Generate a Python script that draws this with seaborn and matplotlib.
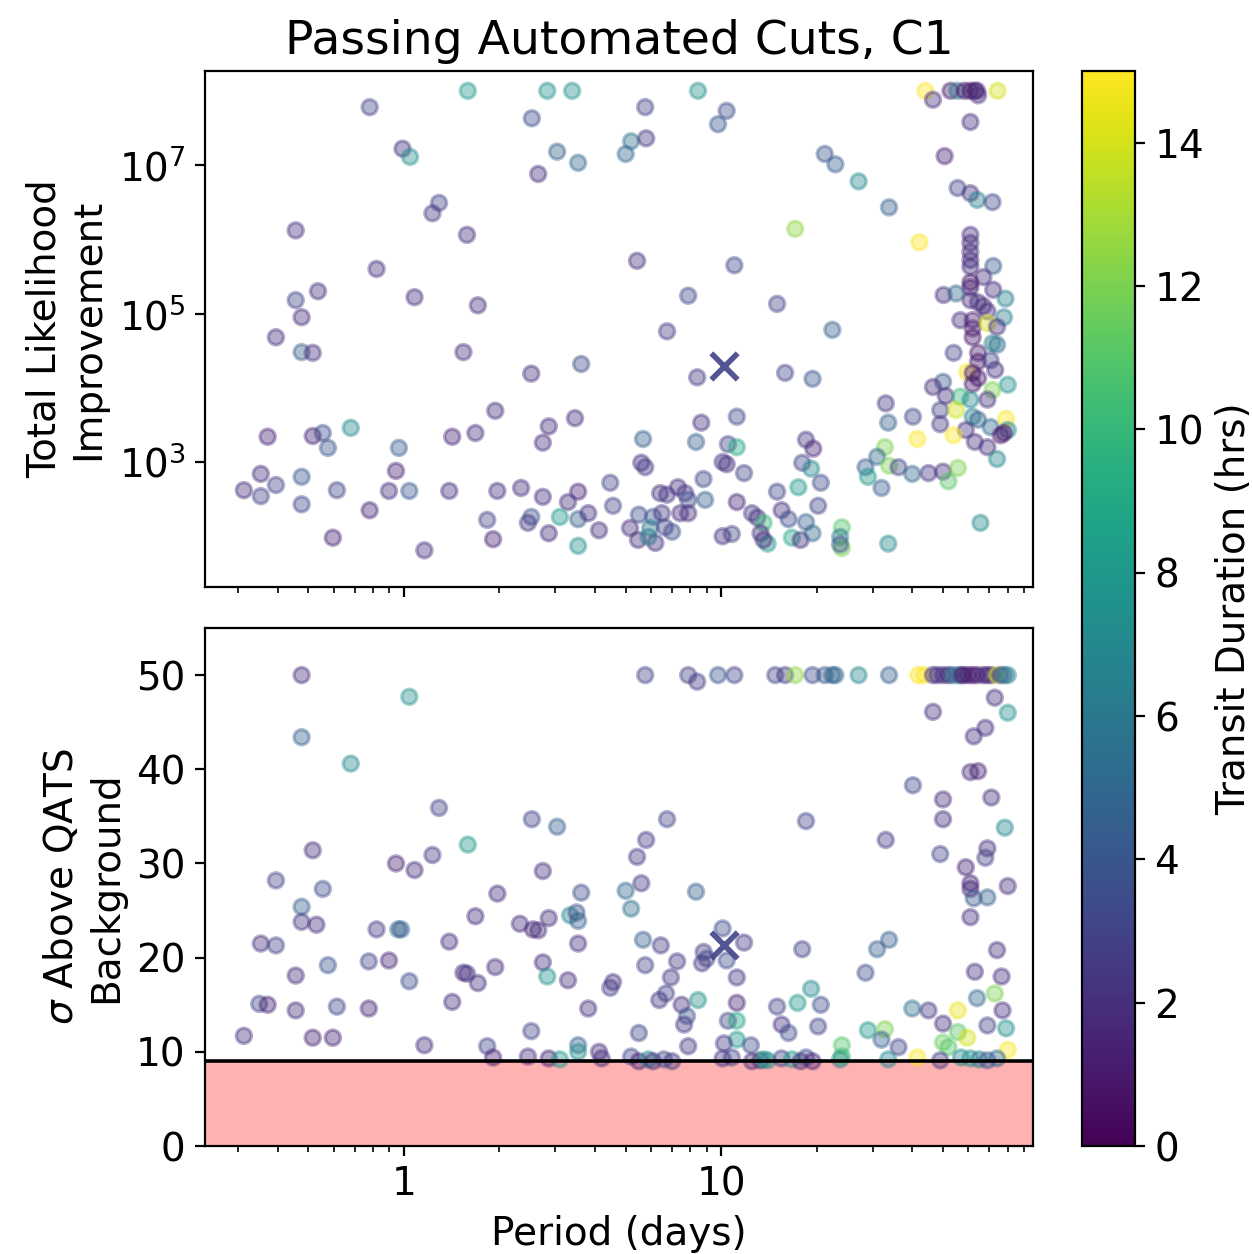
import numpy as np
import pandas as pd
import matplotlib
matplotlib.use("Agg")
import matplotlib.pyplot as plt
import seaborn as sns
from matplotlib.ticker import NullLocator
from matplotlib.colors import Normalize
from matplotlib.cm import ScalarMappable

# ---------------- data ----------------
# Top panel: period (days), log10 of total likelihood improvement, transit duration (hrs)
top_period = [
    0.78, 1.59, 2.83, 3.39, 2.53, 0.99, 1.045, 3.04, 3.54, 2.65,
    1.29, 1.23, 0.456, 1.58, 0.82, 0.536, 0.456, 1.08, 1.71, 0.476,
    0.395, 0.476, 0.516, 1.54, 2.52, 3.62, 1.94, 2.86, 3.46, 2.74,
    0.372, 0.516, 0.555, 0.68, 0.576, 1.42, 1.68, 0.964, 0.944, 0.354,
    0.395, 0.476, 0.313, 0.354, 0.615, 0.897, 1.04, 1.39, 1.97, 2.34,
    2.74, 3.54, 3.29, 4.47, 4.56, 0.476, 0.78, 1.83, 2.52, 2.46,
    3.10, 3.54, 3.81, 2.86, 4.12, 1.91, 0.597, 3.54, 1.16,
    8.45, 5.76, 10.4, 9.77, 5.2, 5.0, 5.8, 21.2, 22.9, 27.1,
    33.8, 17.1, 42.1, 5.43, 11.0, 7.87, 15.0, 6.75, 22.4, 8.4,
    15.9, 19.4, 8.65, 11.2, 5.67, 8.33, 10.5, 11.2, 5.6, 5.76,
    10.1, 10.4, 11.8, 18.5, 19.5, 18.0, 19.2, 20.6, 8.79, 8.9,
    6.42, 6.75, 7.3, 7.7, 7.87, 11.2, 15.0, 17.5, 20.2, 15.5,
    16.3, 7.43, 7.87, 5.5, 6.1, 6.5, 5.16, 5.97, 6.65, 7.0,
    5.47, 6.2, 5.9, 10.1, 10.8, 12.5, 13.0, 13.6, 13.3, 14.0,
    13.6, 16.7, 17.8, 18.5, 19.4, 24.0, 23.7, 24.0, 23.7, 33.6,
    32.8, 31.0, 28.5, 29.0, 33.8, 36.2, 33.0, 33.6, 40.2, 32.0,
    41.5, 40.0,
    44.0, 52.8, 55.5, 58.5, 61.0, 63.0, 64.0, 74.3, 46.5, 64.5,
    61.0, 50.6, 55.6, 61.0, 64.1, 71.6, 61.0, 61.0, 61.0, 61.0,
    61.0, 72.0, 67.0, 61.0, 61.0, 50.2, 55.0, 72.0, 78.7, 61.0,
    64.5, 67.0, 69.0, 77.8, 56.7, 62.0, 62.0, 62.0, 69.0, 74.0,
    74.0, 71.6, 54.0, 64.5, 64.5, 70.6, 73.0, 59.6, 62.0, 64.5,
    62.0, 50.0, 46.5, 80.0, 51.0, 56.7, 71.6, 61.0, 69.0, 49.0,
    55.0, 62.0, 64.5, 79.0, 49.0, 70.6, 80.0, 59.0, 54.0, 76.0,
    77.8, 63.0, 69.0, 74.0, 45.0, 50.0, 55.7, 52.0, 65.6,
]
top_log10_likelihood = [
    7.78, 8.0, 8.0, 8.0, 7.63, 7.22, 7.11, 7.18, 7.03, 6.88,
    6.49, 6.35, 6.12, 6.06, 5.60, 5.30, 5.18, 5.22, 5.11, 4.95,
    4.68, 4.48, 4.47, 4.48, 4.19, 4.32, 3.69, 3.48, 3.59, 3.26,
    3.34, 3.35, 3.39, 3.46, 3.19, 3.34, 3.39, 3.19, 2.88, 2.84,
    2.69, 2.80, 2.62, 2.54, 2.62, 2.61, 2.61, 2.61, 2.61, 2.65,
    2.53, 2.60, 2.46, 2.72, 2.41, 2.43, 2.35, 2.22, 2.26, 2.18,
    2.26, 2.23, 2.31, 2.04, 2.08, 1.96, 1.98, 1.87, 1.81,
    8.0, 7.78, 7.73, 7.55, 7.32, 7.15, 7.36, 7.15, 7.01, 6.78,
    6.43, 6.14, 5.96, 5.71, 5.65, 5.24, 5.13, 4.76, 4.78, 4.14,
    4.20, 4.12, 3.53, 3.61, 3.31, 3.27, 3.24, 3.20, 2.99, 2.93,
    3.0, 2.97, 2.85, 3.30, 3.18, 2.99, 2.91, 2.72, 2.77, 2.49,
    2.58, 2.56, 2.66, 2.58, 2.49, 2.46, 2.60, 2.66, 2.41, 2.35,
    2.23, 2.31, 2.31, 2.29, 2.26, 2.31, 2.11, 2.11, 2.12, 2.06,
    1.95, 1.91, 1.99, 2.0, 2.03, 2.31, 2.25, 2.18, 2.04, 1.90,
    1.95, 1.98, 1.95, 2.19, 2.04, 2.12, 1.99, 1.84, 1.89, 1.90,
    3.20, 3.07, 2.93, 2.80, 2.95, 2.93, 3.79, 3.53, 3.61, 2.65,
    3.31, 2.84,
    8.0, 8.0, 8.0, 8.0, 8.0, 8.0, 8.0, 8.0, 7.88, 7.94,
    7.58, 7.12, 6.69, 6.62, 6.53, 6.50, 6.06, 5.95, 5.83, 5.72,
    5.63, 5.64, 5.49, 5.42, 5.35, 5.25, 5.27, 5.32, 5.20, 5.18,
    5.15, 5.10, 5.03, 4.95, 4.91, 4.91, 4.80, 4.68, 4.87, 4.82,
    4.58, 4.60, 4.47, 4.47, 4.35, 4.37, 4.24, 4.21, 4.20, 4.13,
    4.05, 4.08, 4.01, 4.04, 3.89, 3.88, 3.97, 3.84, 3.84, 3.70,
    3.70, 3.61, 3.57, 3.58, 3.51, 3.47, 3.43, 3.43, 3.36, 3.36,
    3.39, 3.27, 3.20, 3.04, 2.85, 2.87, 2.92, 2.74, 2.18,
]
top_duration = [
    3, 8, 7.5, 7.5, 3.5, 2, 7.5, 4.5, 5, 2,
    3, 2.5, 2, 2, 2, 2, 3, 2, 2, 2,
    2, 4.5, 2, 2, 2, 3.5, 2, 2, 2, 2,
    1.5, 1.5, 3.5, 7, 4, 1.5, 2, 4.5, 1.5, 2,
    3, 4, 2, 3, 3, 2, 4, 2, 2, 2,
    2, 1.5, 2, 3, 3, 3, 1.5, 3, 4, 2.5,
    8, 4.5, 2, 2, 2, 1.5, 1.5, 7.5, 2,
    7.5, 3, 3.5, 4, 5.5, 5, 2.5, 4, 4.5, 7,
    4.5, 12.5, 15, 2, 3, 3, 3, 2.5, 4.5, 2.5,
    3, 4, 2, 3, 4.5, 4.5, 3, 9, 2, 2.5,
    2.5, 2, 3, 2.5, 1.5, 3, 7, 3.5, 3, 4.5,
    2, 2.5, 2, 2.5, 3.5, 1.5, 3, 8, 3, 2,
    3.5, 2, 2, 3.5, 4, 2.5, 2, 6, 3, 3.5,
    2, 2, 6, 2, 3, 2.5, 2, 10, 2, 8,
    2, 9, 2, 4.5, 5, 11, 6, 12, 4, 7,
    12, 5, 4.5, 8, 12, 3, 2.5, 4.5, 3, 4.5,
    15, 5,
    15, 1, 6, 1, 1, 1, 1.5, 14, 2, 2,
    2, 1.5, 3, 2, 6.5, 3, 2, 2, 2, 2,
    2, 4, 2, 1, 1, 2, 5, 2, 6.5, 2,
    2, 2, 2, 6.5, 2, 1, 1.5, 1, 14, 2,
    5, 6.5, 3, 1, 1, 3, 2, 15, 1, 1,
    1, 4, 2, 7.5, 2, 10, 12, 7, 2, 3,
    14, 6.5, 4.5, 15, 2.5, 5, 7, 2, 15, 1,
    1, 2, 2, 7, 2.5, 2, 12, 11, 7,
]

# Bottom panel: period (days), sigma above QATS background, transit duration (hrs)
bottom_period = [
    0.476, 1.04, 0.476, 0.68, 1.29, 2.53, 3.04, 1.59, 0.516, 1.23,
    0.944, 1.08, 2.74, 0.395, 0.555, 1.97, 3.62, 0.476, 0.476, 0.53,
    0.82, 0.96, 0.98, 1.68, 2.32, 2.55, 2.65, 2.86, 3.34, 3.5,
    3.54, 3.54, 1.39, 0.354, 0.395, 0.775, 0.897, 0.576, 0.456, 1.04,
    1.54, 1.58, 1.71, 1.94, 2.74, 2.83, 3.29, 4.47, 4.56, 0.35,
    0.372, 0.456, 0.615, 0.775, 1.42, 3.81, 0.313, 0.516, 0.597, 1.16,
    2.52, 1.83, 1.91, 2.46, 2.86, 3.1, 3.54, 3.54, 4.12,
    5.76, 7.87, 8.4, 9.77, 11.0, 14.8, 15.9, 17.1, 19.4, 21.2,
    22.4, 22.9, 27.1, 33.8, 41.8, 43.6, 46.5, 48.0, 50.0, 52.0,
    53.5, 55.7, 57.0, 58.0, 60.0, 62.0, 64.0, 67.0, 69.0, 71.0,
    74.0, 76.0, 78.0, 80.0,
    72.8, 46.5, 80.0, 68.0, 62.5, 61.0, 64.5, 40.2, 50.0, 71.0,
    50.0, 78.3, 6.75, 18.5, 5.8, 5.43, 33.0, 49.0, 69.0, 68.0,
    59.0, 80.0, 61.0, 61.0, 5.6, 5.0, 8.33, 5.2, 62.5, 69.0,
    61.0, 5.67, 6.45, 5.76, 7.26, 6.94, 6.38, 6.7, 7.5, 7.8,
    7.64, 8.45, 5.5, 7.87, 8.8, 8.7, 9.0, 10.1, 10.4, 11.8,
    11.2, 11.2, 10.5, 11.2, 11.2, 10.2, 10.8, 12.4, 18.0, 15.0,
    15.5, 16.3, 17.4, 19.2, 20.6, 20.2, 24.0, 28.5, 31.0, 33.8,
    29.0, 32.8, 32.0, 36.2, 40.0, 45.0, 50.0, 55.7, 64.0, 72.8,
    77.0, 69.0, 79.0, 63.0, 74.0, 76.5, 55.7, 59.6, 50.0, 52.0,
    80.0, 41.5, 49.0,
    4.2, 5.2, 5.5, 5.9, 6.1, 6.6, 7.0, 10.1, 12.5, 13.3,
    13.6, 14.0, 15.5, 16.7, 17.8, 18.5, 19.4, 23.7, 24.0, 33.6,
    57.0, 61.0, 65.0, 69.0, 74.0,
]
bottom_sigma = [
    50.0, 47.7, 43.4, 40.6, 35.9, 34.7, 33.9, 32.0, 31.4, 30.9,
    30.0, 29.3, 29.2, 28.2, 27.3, 26.8, 26.9, 25.4, 23.8, 23.5,
    23.0, 23.0, 23.0, 24.4, 23.6, 23.0, 22.9, 24.2, 24.5, 24.8,
    23.9, 21.5, 21.7, 21.5, 21.3, 19.6, 19.7, 19.2, 18.1, 17.5,
    18.4, 18.3, 17.3, 19.0, 19.5, 18.0, 17.6, 16.8, 17.4, 15.1,
    15.0, 14.4, 14.8, 14.6, 15.3, 14.6, 11.7, 11.5, 11.5, 10.7,
    12.2, 10.6, 9.4, 9.5, 9.3, 9.2, 10.7, 10.0, 10.0,
    50.0, 50.0, 49.3, 50.0, 50.0, 50.0, 50.0, 50.0, 50.0, 50.0,
    50.0, 50.0, 50.0, 50.0, 50.0, 50.0, 50.0, 50.0, 50.0, 50.0,
    50.0, 50.0, 50.0, 50.0, 50.0, 50.0, 50.0, 50.0, 50.0, 50.0,
    50.0, 50.0, 50.0, 50.0,
    47.6, 46.1, 46.0, 44.4, 43.5, 39.7, 39.8, 38.3, 36.8, 37.0,
    34.7, 33.8, 34.7, 34.5, 32.5, 30.7, 32.5, 31.0, 31.6, 30.6,
    29.6, 27.6, 27.9, 27.3, 27.9, 27.1, 27.0, 25.2, 26.3, 26.4,
    24.3, 21.9, 21.3, 19.2, 19.6, 17.9, 15.5, 16.2, 15.0, 13.8,
    12.9, 15.5, 12.0, 10.6, 20.6, 19.4, 19.9, 23.1, 19.7, 21.6,
    17.9, 15.2, 13.3, 13.3, 11.3, 10.9, 9.4, 10.7, 20.9, 14.8,
    12.9, 12.0, 15.2, 16.7, 15.0, 12.7, 10.7, 18.4, 20.9, 21.9,
    12.3, 12.4, 11.3, 10.5, 14.6, 14.4, 13.0, 14.4, 15.7, 16.2,
    14.4, 12.8, 12.5, 18.5, 20.8, 18.0, 12.1, 11.5, 11.0, 10.5,
    10.2, 9.4, 9.1,
    9.3, 9.5, 9.0, 9.2, 9.0, 9.2, 9.0, 9.3, 9.0, 9.1,
    9.2, 9.1, 9.3, 9.2, 9.0, 9.4, 9.0, 9.2, 9.5, 9.2,
    9.4, 9.3, 9.2, 9.1, 9.3,
]
bottom_duration = [
    2, 7.5, 4.5, 7, 3, 3, 4.5, 8, 2, 2.5,
    1.5, 2, 2, 3, 3.5, 2, 3.5, 4.5, 2.5, 2,
    2.5, 4.5, 4.5, 2, 2, 1.5, 2, 2, 7, 3.5,
    4.5, 2, 2, 2, 3, 3, 1.5, 4, 2, 3.5,
    2, 2, 2, 2, 2, 7.5, 2, 3, 2, 3,
    1.5, 2, 3, 1.5, 2, 2, 2, 1.5, 1.5, 2,
    3, 3, 1.5, 2, 1.5, 8, 4.5, 7.5, 2,
    3, 3, 2.5, 4, 3, 3, 2.5, 12.5, 3.5, 4,
    4.5, 5, 7, 4.5, 15, 15, 2, 2.5, 2, 1.5,
    5, 6, 3, 1, 1, 1, 1, 2, 1.5, 2,
    14, 3, 5, 6.5,
    2, 2, 7.5, 2, 2, 2, 1.5, 3, 2, 2,
    2, 7, 3, 3, 2.5, 2.5, 2.5, 3, 2, 3,
    1.5, 2, 1.5, 1.5, 2.5, 5, 4.5, 5.5, 4, 4.5,
    2, 4.5, 2.5, 3, 2.5, 2.5, 2.5, 3, 2, 4,
    2.5, 7.5, 3, 2.5, 2.5, 2.5, 3, 3.5, 3.5, 2.5,
    2.5, 1.5, 3, 9, 8, 2.5, 3, 3.5, 3, 3,
    2, 3.5, 8, 7, 3.5, 3, 11, 3.5, 4.5, 4.5,
    8, 12, 4.5, 3, 5.5, 2.5, 2, 14.5, 5, 12,
    2, 3, 7.5, 2, 2, 2, 11, 14, 11.5, 11,
    15, 15, 2.5,
    2, 3, 1.5, 7, 2, 3.5, 2.5, 2.5, 2, 1.5,
    9, 7, 3, 8, 2, 3.5, 1.5, 6, 10, 7,
    7, 7.5, 6, 4, 5,
]

# Highlighted candidate (x marker)
marked_period = [10.2]
marked_log10_likelihood = [4.29]
marked_sigma = [21.3]
marked_duration = [3.0]

sigma_threshold = 9.0
duration_limits = (0, 15)

# ---------------- figure ----------------
plt.rcParams["font.size"] = 14
plt.rcParams["font.family"] = ["DejaVu Sans"]

top_df = pd.DataFrame({"period": top_period,
                       "likelihood": 10.0 ** np.array(top_log10_likelihood),
                       "duration": top_duration})
bottom_df = pd.DataFrame({"period": bottom_period,
                          "sigma": bottom_sigma,
                          "duration": bottom_duration})
marked_df = pd.DataFrame({"period": marked_period,
                          "likelihood": 10.0 ** np.array(marked_log10_likelihood),
                          "sigma": marked_sigma,
                          "duration": marked_duration})

fig = plt.figure(figsize=(6.26, 6.27), dpi=200)
ax1 = fig.add_axes([0.1637, 0.5319, 0.6613, 0.4115])
ax2 = fig.add_axes([0.1637, 0.0861, 0.6613, 0.4131], sharex=ax1)
cax = fig.add_axes([0.8642, 0.0861, 0.0423, 0.8573])

cmap = "viridis"
pt_kw = dict(hue="duration", palette=cmap, hue_norm=duration_limits, legend=False,
             alpha=0.4, s=30, edgecolor="face", linewidth=1.2)
x_kw = dict(hue="duration", palette=cmap, hue_norm=duration_limits, legend=False,
            alpha=0.9, s=90, marker="x", linewidth=2.0)

sns.scatterplot(data=top_df, x="period", y="likelihood", ax=ax1, **pt_kw)
sns.scatterplot(data=marked_df, x="period", y="likelihood", ax=ax1, **x_kw)

ax2.axhspan(0, sigma_threshold, color="red", alpha=0.3, lw=0, zorder=0.5)
sns.scatterplot(data=bottom_df, x="period", y="sigma", ax=ax2, **pt_kw)
sns.scatterplot(data=marked_df, x="period", y="sigma", ax=ax2, **x_kw)
ax2.axhline(sigma_threshold, color="black", lw=1.3, zorder=3)

ax1.set_xscale("log")
ax1.set_yscale("log")
ax1.set_xlim(0.236, 96)
ax1.set_ylim(20.7, 1.85e8)
ax1.set_yticks([1e3, 1e5, 1e7])
ax1.yaxis.set_minor_locator(NullLocator())
ax1.tick_params(labelbottom=False)
ax1.set_xlabel("")
ax1.set_ylabel("Total Likelihood\nImprovement")
ax1.set_title("Passing Automated Cuts, C1", fontsize=17)

ax2.set_ylim(0, 55)
ax2.set_yticks([0, 10, 20, 30, 40, 50])
ax2.set_xticks([1, 10])
ax2.set_xticklabels(["1", "10"])
ax2.set_xlabel("Period (days)")
ax2.set_ylabel(r"$\sigma$ Above QATS" + "\nBackground")

sm = ScalarMappable(norm=Normalize(*duration_limits), cmap=cmap)
cb = fig.colorbar(sm, cax=cax)
cb.set_ticks(list(range(0, 15, 2)))
cb.set_label("Transit Duration (hrs)")

fig.savefig("out.png", dpi=200)
